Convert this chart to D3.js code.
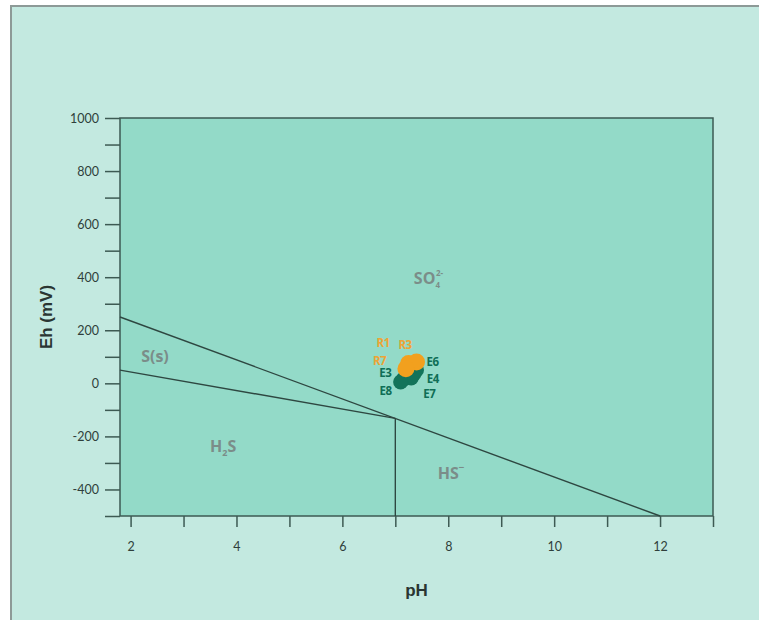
<!DOCTYPE html>
<html>
<head>
<meta charset="utf-8">
<script src="https://cdn.jsdelivr.net/npm/d3@7"></script>
<style>
  body { margin: 0; background: #ffffff; }
  svg { display: block; }
</style>
</head>
<body>
<div id="chart"></div>
<script>
// Eh-pH diagram for sulfur, with sample points

const width = 759;
const height = 620;
const margin = {left: 120, right: 46, top: 118, bottom: 104};

// axis ticks
const xTicks = [2, 4, 6, 8, 10, 12];
const xMinorTicks = [3, 5, 7, 9, 11, 13];
const yTicks = [-400, -200, 0, 200, 400, 600, 800, 1000];
const yMinorTicks = [-500, -300, -100, 100, 300, 500, 700, 900];

// stability field boundaries (pH, Eh)
const upperBoundary = [[1.8, 250], [12, -500]];
const sulfurBoundary = [[1.8, 50], [7, -132]];
const acidBoundary = [[7, -132], [7, -500]];

// field labels
const fieldNames = ["SO", "S(s)", "H", "HS"];
const fieldPH = [7.35, 2.2, 3.5, 7.8];
const fieldEh = [375, 80, -260, -360];

// samples
const sampleNames = ["E3", "E4", "E6", "E7", "E8", "R1", "R3", "R7"];
const samplePH = [7.15, 7.35, 7.4, 7.3, 7.1, 7.25, 7.4, 7.2];
const sampleEh = [15, 35, 50, 20, 5, 75, 80, 55];

const xScale = d3.scaleLinear().domain([1.8, 13]).range([margin.left, width - margin.right]);
const yScale = d3.scaleLinear().domain([-500, 1000]).range([height - margin.bottom, margin.top]);

const svg = d3.select("#chart").append("svg")
  .attr("width", width)
  .attr("height", height);

// outer frame
svg.append("rect")
  .attr("x", 11).attr("y", 6)
  .attr("width", width + 20).attr("height", height + 20)
  .attr("fill", "#c3e9e0")
  .attr("stroke", "#8d9a97")
  .attr("stroke-width", 2);

// plot area
svg.append("rect")
  .attr("x", xScale(1.8)).attr("y", yScale(1000))
  .attr("width", xScale(13) - xScale(1.8))
  .attr("height", yScale(-500) - yScale(1000))
  .attr("fill", "#93dac8")
  .attr("stroke", "#3d5a53")
  .attr("stroke-width", 1.5);

const axisColor = "#3d5a53";
const tickFont = "Lato, 'DejaVu Sans', sans-serif";

// y axis
const yAxis = svg.append("g")
  .attr("transform", `translate(${margin.left},0)`)
  .call(d3.axisLeft(yScale).tickValues(yTicks.concat(yMinorTicks)).tickSize(15)
    .tickFormat(d => yTicks.includes(d) ? d : ""));
yAxis.select(".domain").remove();
yAxis.selectAll("line").attr("stroke", axisColor).attr("stroke-width", 1.5);
yAxis.selectAll("text")
  .attr("x", -21)
  .attr("font-family", tickFont)
  .attr("font-size", 12.5)
  .attr("fill", "#2f3f3b");

// x axis
const xAxis = svg.append("g")
  .attr("transform", `translate(0,${height - margin.bottom})`)
  .call(d3.axisBottom(xScale).tickValues(xTicks.concat(xMinorTicks)).tickSize(11)
    .tickFormat(d => xTicks.includes(d) ? d : ""));
xAxis.select(".domain").remove();
xAxis.selectAll("line").attr("stroke", axisColor).attr("stroke-width", 1.5);
xAxis.selectAll("text")
  .attr("y", 26)
  .attr("font-family", tickFont)
  .attr("font-size", 12.5)
  .attr("fill", "#2f3f3b");

// axis titles
svg.append("text")
  .attr("x", (xScale(1.8) + xScale(13)) / 2)
  .attr("y", 596)
  .attr("text-anchor", "middle")
  .attr("font-family", "'Liberation Sans', Arial, sans-serif")
  .attr("font-weight", "bold")
  .attr("font-size", 17)
  .attr("fill", "#2a3532")
  .text("pH");

svg.append("text")
  .attr("transform", `translate(52,${yScale(250)}) rotate(-90)`)
  .attr("text-anchor", "middle")
  .attr("font-family", "'Liberation Sans', Arial, sans-serif")
  .attr("font-weight", "bold")
  .attr("font-size", 17)
  .attr("fill", "#2a3532")
  .text("Eh (mV)");

// boundaries
const line = d3.line().x(d => xScale(d[0])).y(d => yScale(d[1]));
[upperBoundary, sulfurBoundary, acidBoundary].forEach(b => {
  svg.append("path")
    .attr("d", line(b))
    .attr("fill", "none")
    .attr("stroke", "#2e4741")
    .attr("stroke-width", 1.4);
});

// field labels
const fieldColor = "#7b8d89";
const fieldFont = "'Open Sans', 'DejaVu Sans', sans-serif";
fieldNames.forEach((n, i) => {
  const t = svg.append("text")
    .attr("x", xScale(fieldPH[i]))
    .attr("y", yScale(fieldEh[i]))
    .attr("font-family", fieldFont)
    .attr("font-size", 16)
    .attr("font-weight", "bold")
    .attr("fill", fieldColor);
  if (n === "SO") {
    t.append("tspan").text("SO");
    t.append("tspan").attr("font-size", 8).attr("dy", 4).text("4");
    t.append("tspan").attr("font-size", 8).attr("dx", -4).attr("dy", -12).text("2-");
  } else if (n === "H") {
    t.append("tspan").text("H");
    t.append("tspan").attr("font-size", 9).attr("dy", 4).text("2");
    t.append("tspan").attr("dy", -4).text("S");
  } else if (n === "HS") {
    t.append("tspan").text("HS");
    t.append("tspan").attr("font-size", 10).attr("dy", -8).text("−");
  } else {
    t.text(n);
  }
});

// sample points
const samples = sampleNames.map((n, i) => ({name: n, ph: samplePH[i], eh: sampleEh[i]}));
const colorOf = d => d.name[0] === "E" ? "#13735a" : "#f2a01e";
const labelColorOf = d => d.name[0] === "E" ? "#0f6e56" : "#eda436";

// green first, orange on top
const ordered = samples.filter(d => d.name[0] === "E").concat(samples.filter(d => d.name[0] === "R"));
svg.selectAll(".pt")
  .data(ordered)
  .enter()
  .append("circle")
  .attr("class", "pt")
  .attr("cx", d => xScale(d.ph))
  .attr("cy", d => yScale(d.eh))
  .attr("r", d => d.name[0] === "R" ? 8.5 : 7.5)
  .attr("fill", colorOf);

// label offsets in pixels from each point
const labelOffset = {
  E3: [-24, -2], E4: [13, 9], E6: [10, -4], E7: [12, 20], E8: [-21, 13],
  R1: [-32, -16], R3: [-18, -13], R7: [-33, -4]
};
svg.selectAll(".lbl")
  .data(samples)
  .enter()
  .append("text")
  .attr("class", "lbl")
  .attr("x", d => xScale(d.ph) + labelOffset[d.name][0])
  .attr("y", d => yScale(d.eh) + labelOffset[d.name][1])
  .attr("font-family", "'Open Sans', 'DejaVu Sans', sans-serif")
  .attr("font-weight", "bold")
  .attr("font-size", 11.5)
  .attr("letter-spacing", -0.5)
  .attr("fill", labelColorOf)
  .text(d => d.name);
</script>
</body>
</html>
